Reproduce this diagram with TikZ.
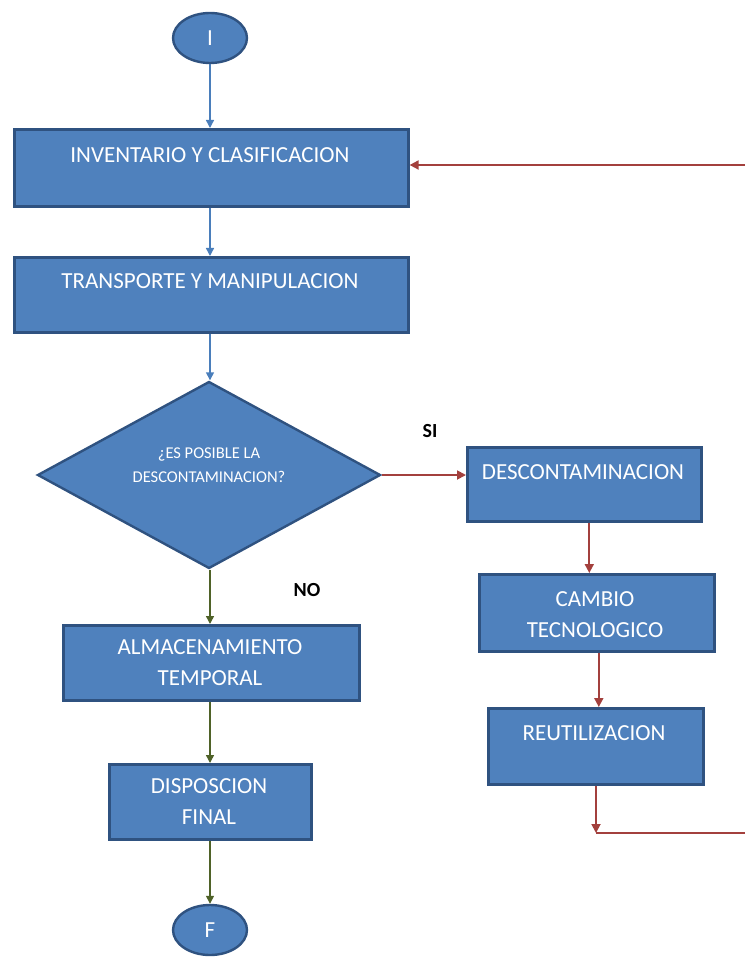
\documentclass[tikz,border=0pt]{standalone}
\usepackage{fontspec}
\setmainfont{Carlito}
\usetikzlibrary{shapes.geometric,arrows.meta,calc}
\definecolor{boxfill}{HTML}{4F81BD}
\definecolor{boxline}{HTML}{2F5280}
\definecolor{flowblue}{HTML}{4A7EBB}
\definecolor{flowred}{HTML}{A3403D}
\definecolor{flowgreen}{HTML}{4F6228}
\tikzset{
  procbox/.style={draw=boxline, line width=2.6pt, fill=boxfill, rectangle, inner sep=0pt, anchor=north west},
  terminal/.style={draw=boxline, line width=2.4pt, fill=boxfill, ellipse, inner sep=0pt,
    minimum width=74pt, minimum height=50pt, text=white, font=\fontsize{23}{27}\selectfont},
  decision/.style={draw=boxline, line width=2.4pt, fill=boxfill, diamond, inner sep=0pt,
    minimum width=343pt, minimum height=187pt},
  boxtext/.style={text=white, align=center, inner sep=0pt, font=\fontsize{23}{31}\selectfont},
  smalltext/.style={text=white, align=center, inner sep=0pt, font=\fontsize{16.5}{24}\selectfont},
  branchlabel/.style={inner sep=0pt, font=\fontsize{20}{24}\selectfont\bfseries},
  bluearrow/.style={draw=flowblue, line width=1.4pt, -{Triangle[length=8pt,width=8pt]}},
  greenarrow/.style={draw=flowgreen, line width=1.4pt, -{Triangle[length=8pt,width=8pt]}},
  redarrow/.style={draw=flowred, line width=1.8pt, -{Triangle[length=9pt,width=9pt]}},
  redline/.style={draw=flowred, line width=1.8pt},
}
\begin{document}
\begin{tikzpicture}[x=1pt,y=-1pt]
\useasboundingbox (0,0) rectangle (745,957);

% start and end terminals
\node[terminal] (start) at (210,38) {I};
\node[terminal] (finish) at (210,930) {F};

% main column
\node[procbox, minimum width=394pt, minimum height=77pt] (inv) at (13,128) {};
\node[boxtext] (invt) at (210,155) {INVENTARIO Y CLASIFICACION};
\node[procbox, minimum width=394pt, minimum height=75pt] (trans) at (13,256) {};
\node[boxtext] (transt) at (210,281) {TRANSPORTE Y MANIPULACION};

\node[decision] (dec) at (209,475) {};
\node[smalltext] (dect) at (209,465) {¿ES POSIBLE LA\\DESCONTAMINACION?};

\node[procbox, minimum width=296pt, minimum height=75pt] (alm) at (62,624) {};
\node[boxtext] (almt) at (210,663) {ALMACENAMIENTO\\TEMPORAL};
\node[procbox, minimum width=202pt, minimum height=75pt] (disp) at (108,763) {};
\node[boxtext] (dispt) at (209,802) {DISPOSCION\\FINAL};

% recovery column
\node[procbox, minimum width=234pt, minimum height=74pt] (desc) at (466,446) {};
\node[boxtext] (desct) at (583,472) {DESCONTAMINACION};
\node[procbox, minimum width=235pt, minimum height=77pt] (camb) at (478,573) {};
\node[boxtext] (cambt) at (595,615) {CAMBIO\\TECNOLOGICO};
\node[procbox, minimum width=215pt, minimum height=76pt] (reut) at (487,707) {};
\node[boxtext] (reutt) at (594,733) {REUTILIZACION};

% branch labels
\node[branchlabel] (si) at (430,431) {SI};
\node[branchlabel] (no) at (307,590) {NO};

% return loop end points at the right margin
\coordinate (loopdown) at (596,833);
\coordinate (loopright) at (745,833);
\coordinate (looptop) at (745,165);

% connectors (main column runs straight down at the start node's x)
\draw[bluearrow] (start.south) -- (start.south |- inv.north);
\draw[bluearrow] (start.south |- inv.south) -- (start.south |- trans.north);
\draw[bluearrow] (start.south |- trans.south) -- (start.south |- dec.north);

\draw[greenarrow] (start.south |- dec.south) -- (start.south |- alm.north);
\draw[greenarrow] (start.south |- alm.south) -- (start.south |- disp.north);
\draw[greenarrow] (start.south |- disp.south) -- (finish.north);

\draw[redarrow] (dec.east) -- (dec.east -| desc.west);
\draw[redarrow] ([xshift=5pt]desc.south) -- ([xshift=5pt]desc.south |- camb.north);
\draw[redarrow] ([xshift=2pt]camb.south) -- ([xshift=2pt]camb.south |- reut.north);
\draw[redarrow] (reut.south -| loopdown) -- (loopdown);
\draw[redline] (loopdown) -- (loopright);
\draw[redarrow] (looptop) -- (looptop -| inv.east);
\end{tikzpicture}
\end{document}
